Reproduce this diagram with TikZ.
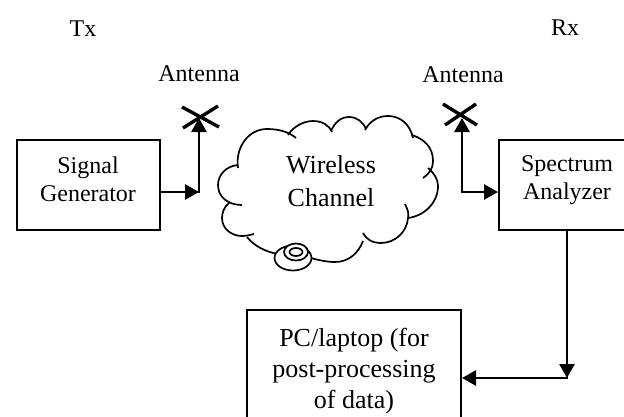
\documentclass[tikz,border=0pt]{standalone}
\usepackage{fontspec}
\setmainfont{Liberation Serif}
\usetikzlibrary{arrows.meta}
\tikzset{
  blockbox/.style={draw=black,line width=2pt,fill=white,inner sep=0pt,align=center,font=\fontsize{24}{28}\selectfont},
  bigblock/.style={blockbox,font=\fontsize{26}{31}\selectfont},
  lab/.style={inner sep=0pt,anchor=base,font=\fontsize{24}{28}\selectfont},
  conn/.style={line width=2.8pt,line cap=rect,-{Triangle[length=14pt,width=15pt]}},
  crossbar/.style={line width=3.4pt},
  cloudline/.style={line width=1.7pt}
}
\begin{document}
\begin{tikzpicture}[x=1pt,y=-1pt]
\useasboundingbox (0,0) rectangle (624,416);
\clip (0,0) rectangle (624,416);
\node[lab] (tx) at (83,36) {Tx};
\node[lab] (rx) at (565,35) {Rx};
\node[lab] (anta) at (199,81) {Antenna};
\node[lab] (antb) at (463,82) {Antenna};
\node[blockbox,minimum width=143pt,minimum height=90pt,text depth=12pt] (sg) at (88,185) {Signal\\Generator};
\node[blockbox,minimum width=136pt,minimum height=90pt,text depth=14pt] (sa) at (567,185) {Spectrum\\Analyzer};
\node[bigblock,minimum width=214pt,minimum height=122pt] (pc) at (354,371) {PC/laptop (for\\post-processing\\of data)};
\coordinate (ca) at (199,192);
\coordinate (ta) at (199,118);
\coordinate (cb) at (462,192);
\coordinate (tb) at (462,118);
\coordinate (cc) at (567,378);
\draw[conn] (sg.east |- ca) -- (ca);
\draw[conn] (ca) -- (ta);
\draw[conn] (cb) -- (cb -| sa.west);
\draw[conn] (cb) -- (tb);
\draw[conn] (sa.south) -- (cc);
\draw[conn] (cc) -- (cc -| pc.east);
\draw[crossbar] (182,107) -- (219,127) (218,106) -- (183,128);
\draw[crossbar] (443,104) -- (477,125) (476,104) -- (445,125);
% cloud
\draw[cloudline] (238,168) .. controls (235,148) and (248,129) .. (267,129) .. controls (279,129) and (289,132) .. (296,138);
\draw[cloudline] (288,135) .. controls (293,127) and (303,121) .. (313,121) .. controls (322,121) and (329,125) .. (332,132);
\draw[cloudline] (331,131) .. controls (335,122) and (341,117) .. (349,117) .. controls (357,117) and (363,122) .. (366,129);
\draw[cloudline] (365,130) .. controls (370,121) and (378,116) .. (388,116) .. controls (400,116) and (410,124) .. (413,138);
\draw[cloudline] (412,135) .. controls (424,139) and (433,147) .. (433,161) .. controls (433,168) and (430,173) .. (423,178);
\draw[cloudline] (428,168) .. controls (434,173) and (438,179) .. (438,186) .. controls (438,203) and (424,216) .. (408,218);
\draw[cloudline] (405,204) .. controls (408,210) and (409,214) .. (408,218) .. controls (407,232) and (395,243) .. (381,243) .. controls (372,243) and (366,239) .. (363,233);
\draw[cloudline] (363,241) .. controls (358,254) and (348,262) .. (335,262) .. controls (327,262) and (318,260) .. (311,258);
\draw[cloudline] (238,165) .. controls (226,166) and (218,175) .. (218,185) .. controls (218,197) and (228,205) .. (242,205);
\draw[cloudline] (229,203) .. controls (224,207) and (222,213) .. (222,218) .. controls (222,229) and (232,236) .. (242,236) .. controls (246,236) and (250,235) .. (254,234);
\draw[cloudline] (247,237) .. controls (254,246) and (266,252) .. (278,254);
\draw[line width=1.7pt,fill=white] (293,258) ellipse [x radius=18.5pt,y radius=12.5pt];
\draw[line width=1.7pt,fill=white] (296,252) ellipse [x radius=12pt,y radius=8.5pt];
\draw[line width=1.7pt] (296,252) ellipse [x radius=6.5pt,y radius=4pt];
\node[inner sep=0pt,align=center,font=\fontsize{26}{33}\selectfont] (wc) at (331,181) {Wireless\\Channel};
\end{tikzpicture}
\end{document}
